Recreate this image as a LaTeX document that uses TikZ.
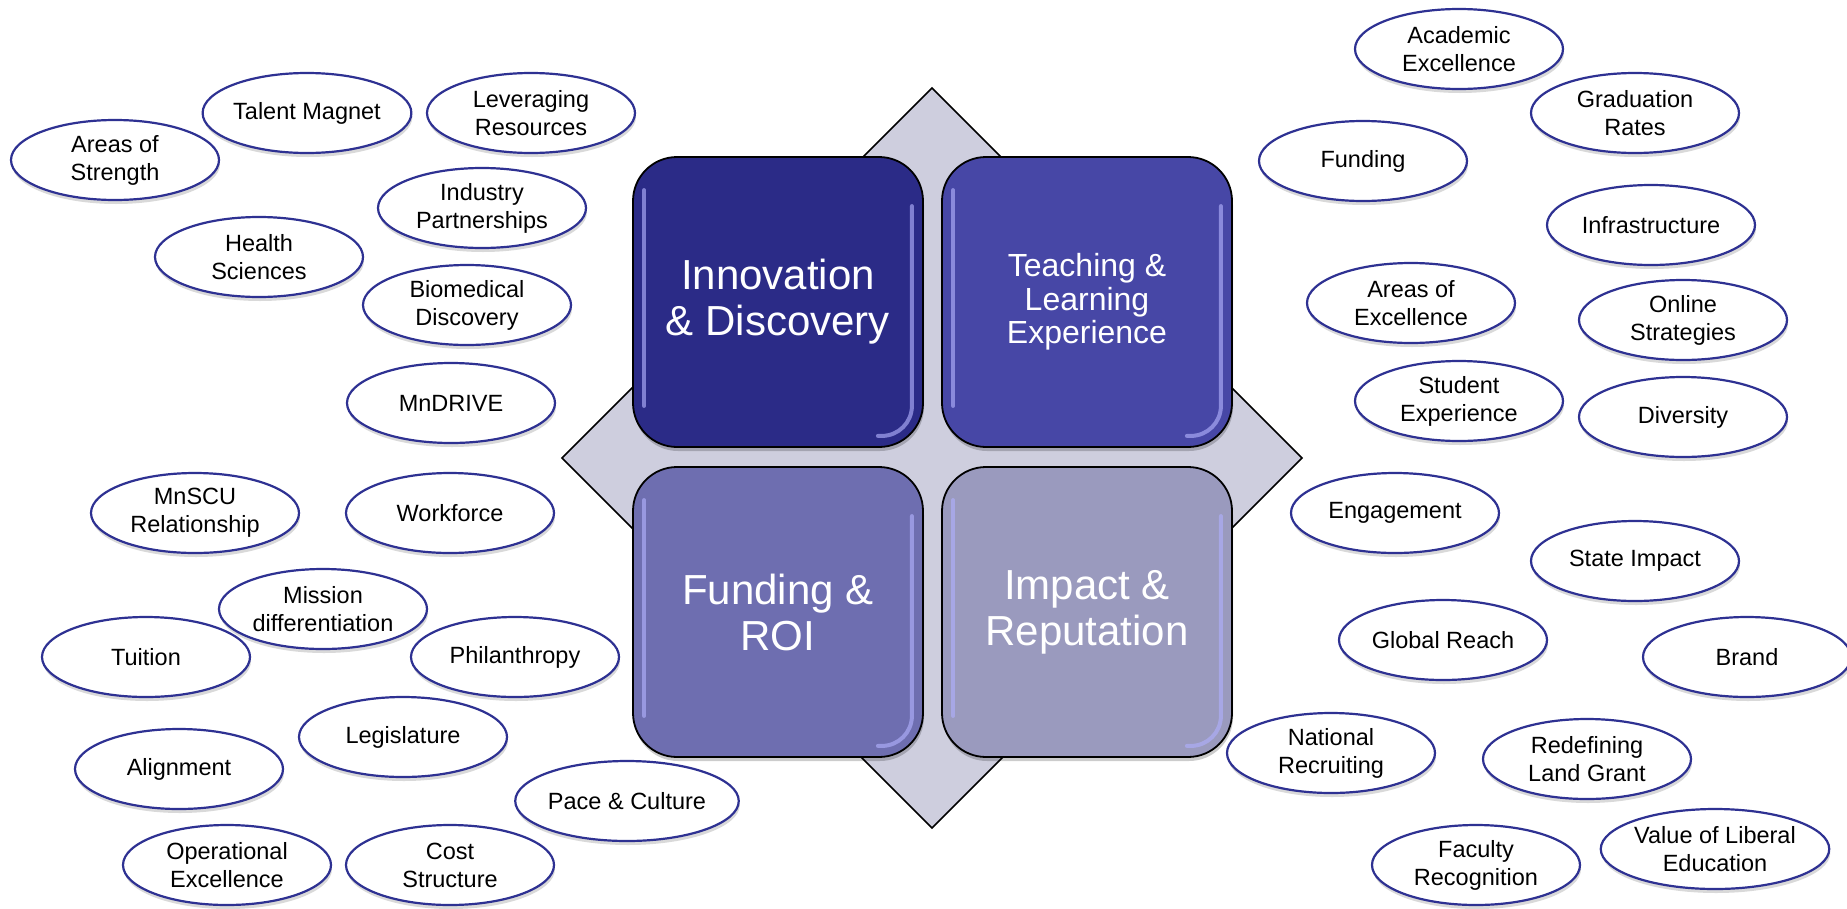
\documentclass[tikz,border=0pt]{standalone}
\usepackage{fontspec}
\setmainfont{Liberation Sans}
\usetikzlibrary{shapes.geometric,shadows}
\definecolor{ellline}{RGB}{46,49,146}
\definecolor{diafill}{RGB}{206,206,222}
\definecolor{sqA}{RGB}{43,43,135}
\definecolor{sqB}{RGB}{71,71,166}
\definecolor{sqC}{RGB}{110,110,176}
\definecolor{sqD}{RGB}{154,154,190}
\definecolor{hlcol}{RGB}{175,175,250}
\begin{document}
\begin{tikzpicture}[x=1pt,y=-1pt,
  oval/.style={ellipse, draw=ellline, line width=2.2pt, fill=white,
    minimum width=208pt, minimum height=80pt, inner sep=0pt, align=center,
    font=\fontsize{23.5}{28}\selectfont,
    drop shadow={shadow xshift=1pt, shadow yshift=-4pt, opacity=0.15, fill=black}},
  sq/.style={draw=black, line width=1.8pt, rounded corners=44pt,
    minimum size=290pt, inner sep=0pt, align=center, text=white,
    drop shadow={shadow xshift=1pt, shadow yshift=-4pt, opacity=0.2, fill=black}},
  bigtext/.style={font=\fontsize{42}{46}\selectfont},
  midtext/.style={font=\fontsize{32}{33.5}\selectfont},
  hl/.style={draw=hlcol, line width=4pt, opacity=0.65, line cap=round}
]
\useasboundingbox (0,0) rectangle (1847,908);
\fill[white] (0,0) rectangle (1847,908);

% central diamond
\draw[fill=diafill, line width=1.6pt, line join=miter]
  (932,88) -- (1302,458) -- (932,828) -- (562,458) -- cycle;

% four squares
\node[sq, fill=sqA, bigtext] (innov)  at (778,302) {Innovation\\\& Discovery};
\node[sq, fill=sqB, midtext] (teach)  at (1087,302) {Teaching \&\\Learning\\Experience};
\node[sq, fill=sqC, bigtext] (fund)   at (778,612) {Funding \&\\ROI};
\node[sq, fill=sqD, bigtext] (impact) at (1087,612) {Impact \&\\Reputation};

\foreach \n in {innov,teach,fund,impact} {
  \draw[hl] ([shift={(12,34)}]\n.north west) -- ([shift={(12,-42)}]\n.south west);
  \draw[hl, rounded corners=30pt] ([shift={(-12,50)}]\n.north east) -- ([shift={(-12,-12)}]\n.south east) -- ([shift={(-46,-12)}]\n.south east);
}

% left ellipses
\node[oval] (ast) at (115,160) {Areas of\\Strength};
\node[oval] (tal) at (307,113) {Talent Magnet};
\node[oval] (lev) at (531,113) {Leveraging\\Resources};
\node[oval] (ind) at (482,208) {Industry\\Partnerships};
\node[oval] (hea) at (259,257) {Health\\Sciences};
\node[oval] (bio) at (467,305) {Biomedical\\Discovery};
\node[oval] (mnd) at (451,403) {MnDRIVE};
\node[oval] (mns) at (195,513) {MnSCU\\Relationship};
\node[oval] (wor) at (450,513) {Workforce};
\node[oval] (tui) at (146,657) {Tuition};
\node[oval] (mis) at (323,609) {Mission\\differentiation};
\node[oval] (phi) at (515,657) {Philanthropy};
\node[oval] (leg) at (403,737) {Legislature};
\node[oval] (ali) at (179,769) {Alignment};
\node[oval] (pac) at (627,801) {Pace \& Culture};
\node[oval] (ope) at (227,865) {Operational\\Excellence};
\node[oval] (cos) at (450,865) {Cost\\Structure};

% right ellipses
\node[oval] (aca) at (1459,49)  {Academic\\Excellence};
\node[oval] (gra) at (1635,113) {Graduation\\Rates};
\node[oval] (fun) at (1363,161) {Funding};
\node[oval] (inf) at (1651,225) {Infrastructure};
\node[oval] (aoe) at (1411,303) {Areas of\\Excellence};
\node[oval] (onl) at (1683,320) {Online\\Strategies};
\node[oval] (stu) at (1459,401) {Student\\Experience};
\node[oval] (div) at (1683,417) {Diversity};
\node[oval] (eng) at (1395,513) {Engagement};
\node[oval] (sta) at (1635,561) {State Impact};
\node[oval] (glo) at (1443,640) {Global Reach};
\node[oval] (bra) at (1747,657) {Brand};
\node[oval] (nat) at (1331,753) {National\\Recruiting};
\node[oval] (red) at (1587,759) {Redefining\\Land Grant};
\node[oval] (fac) at (1476,865) {Faculty\\Recognition};
\node[oval] (val) at (1715,849) {Value of Liberal\\Education};
\end{tikzpicture}
\end{document}
